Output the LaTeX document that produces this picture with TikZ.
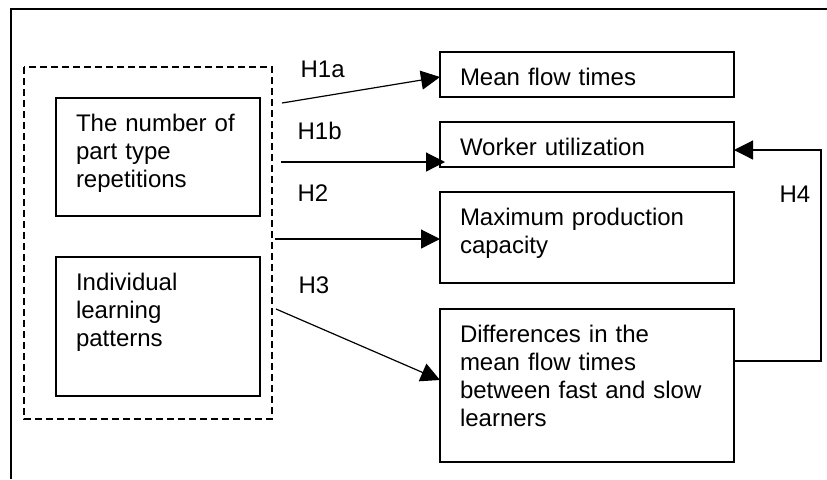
\documentclass[tikz,border=0pt]{standalone}
\usepackage{fontspec}
\setmainfont{Liberation Sans}
\usetikzlibrary{arrows.meta}

\begin{document}
\begin{tikzpicture}[x=0.5pt,y=-0.5pt,line width=0.6pt,
    box/.style={draw,line width=0.8pt,anchor=north west,inner xsep=10pt,inner ysep=0pt,outer sep=0pt,
        align=left,text height=16.5pt,font=\fontsize{12pt}{14pt}\selectfont},
    lbl/.style={anchor=base west,inner sep=0pt,font=\fontsize{12pt}{14pt}\selectfont},
    arr/.style={-{Triangle[length=9.5pt,width=9.5pt]}}]

    \useasboundingbox (0,0) rectangle (827,479);
    \draw[line width=1pt] (11,479) -- (11,9) -- (827,9);
    \draw[dash pattern=on 3.5pt off 2pt,line width=0.7pt] (24,67) rectangle (272,419);

    \node [box,text width=82pt,text depth=42.5pt] (rep) at (56,98) {The number of\\part type\\repetitions};
    \node [box,text width=82pt,text depth=53pt] (ilp) at (56,257) {Individual\\learning\\patterns};

    \node [box,text width=127pt,text depth=6pt] (mft) at (440,52) {Mean flow times};
    \node [box,text width=127pt,text depth=6pt] (wu) at (440,122) {Worker utilization};
    \node [box,text width=127pt,text depth=29pt] (mpc) at (440,192) {Maximum production\\capacity};
    \node [box,text width=127pt,text depth=60pt] (dmf) at (440,309) {Differences in the\\mean flow times\\between fast and slow\\learners};

    \coordinate (t1a) at (282,103);
    \coordinate (t1b) at (281,162);
    \coordinate (t2) at (275,239);
    \coordinate (t3) at (276,309);

    \draw[arr] (t1a) -- ([yshift=-1.25pt]mft.west);
    \draw[arr] (t1b) -- ([xshift=2.5pt]t1b -| wu.west);
    \draw[arr] (t2) -- (t2 -| mpc.west);
    \draw[arr] (t3) -- ([yshift=2.75pt]dmf.west);
    \draw[arr] ([yshift=12.25pt]dmf.east) -- ++(43.5pt,0) |- ([yshift=-2.75pt]wu.east);

    \node [lbl] (h1a) at (300,77) {H1a};
    \node [lbl] (h1b) at (297,139) {H1b};
    \node [lbl] (h2) at (297,201) {H2};
    \node [lbl] (h3) at (298,293) {H3};
    \node [lbl] (h4) at (779,202) {H4};

\end{tikzpicture}
\end{document}
